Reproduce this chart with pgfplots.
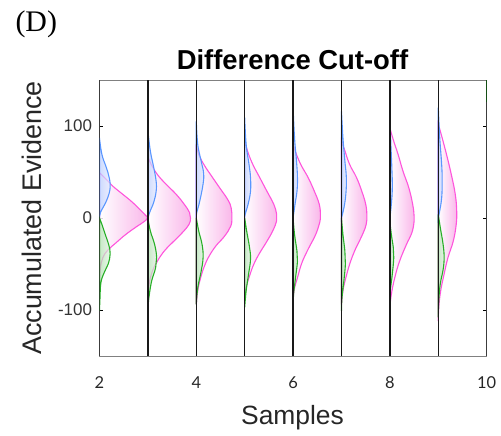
\documentclass[border=0pt]{standalone}
\usepackage{pgfplots}
\pgfplotsset{compat=1.18}
\usepackage{fontspec}
\setmainfont{Liberation Sans}
\newfontfamily\seriffont{Liberation Serif}
\newfontfamily\latofont{Lato}
\definecolor{mline}{RGB}{255,85,220}
\definecolor{mfill}{RGB}{248,170,230}
\definecolor{bline}{RGB}{90,150,255}
\definecolor{bfill}{RGB}{185,205,255}
\definecolor{gline}{RGB}{40,175,40}
\definecolor{gfill}{RGB}{175,225,175}
\pgfplotsset{
  mag/.style={draw=mline, line width=1.1bp, smooth, tension=0.7, left color=white, right color=mfill, fill opacity=0.85},
  blu/.style={draw=bline, line width=1.1bp, smooth, tension=0.7, left color=bfill, right color=bfill!35!white, fill opacity=0.7},
  grn/.style={draw=gline, line width=1.1bp, smooth, tension=0.7, left color=gfill, right color=gfill!35!white, fill opacity=0.7},
}
\begin{document}
\begin{tikzpicture}
\useasboundingbox (-99.5bp,-80bp) rectangle (401.5bp,356bp);
\begin{axis}[
  at={(0,0)}, anchor=south west,
  scale only axis, width=387.2bp, height=276bp,
  xmin=2, xmax=10, ymin=-150, ymax=150,
  xtick={2,4,6,8,10}, xticklabels={2,4,6,8,10},
  ytick={-100,0,100}, yticklabels={-100,0,100},
  tick align=inside, major tick length=4bp,
  xtick style={draw=none},
  ytick style={draw=black, line width=0.8bp},
  axis line style={draw=gray, line width=0.8bp},
  xticklabel style={font=\latofont\fontsize{16.5}{18}\selectfont, text=black!85, anchor=base, yshift=-32.5bp},
  yticklabel style={font=\fontsize{17}{20}\selectfont, text=black!80, xshift=-4bp},
  unbounded coords=jump,
]
% ---- column 2
\addplot[mag] coordinates {(2,49.3)(2.14,42)(2.27,34.8)(2.44,27.5)(2.65,18.5)(2.82,10)(2.95,3)(2.99,0)(2.92,-4)(2.75,-10)(2.54,-18)(2.34,-27)(2.17,-35)(2.07,-43)(2.02,-54)(2,-68)} -- cycle;
\addplot[blu] coordinates {(2,87)(2.05,69)(2.14,55)(2.20,44)(2.22,33)(2.17,22)(2.09,13)(2.02,6)(2,0)} -- cycle;
\addplot[grn] coordinates {(2,0)(2.05,-7)(2.12,-18)(2.19,-29)(2.22,-39)(2.18,-50)(2.10,-59)(2.03,-70)(2.01,-87)(2,-101)} -- cycle;
% ---- column 3
\addplot[mag] coordinates {(3,67)(3.07,58)(3.20,47)(3.37,37)(3.58,26)(3.75,15)(3.86,6)(3.88,0)(3.85,-7)(3.71,-16)(3.54,-25)(3.37,-34)(3.24,-43)(3.14,-52)(3.05,-65)(3.01,-79)(3,-87)} -- cycle;
\addplot[blu] coordinates {(3,95)(3.05,73)(3.12,55)(3.17,40)(3.17,29)(3.12,17)(3.05,8)(3,0)} -- cycle;
\addplot[grn] coordinates {(3,0)(3.05,-14)(3.14,-29)(3.18,-43)(3.16,-54)(3.08,-68)(3.03,-83)(3,-97)} -- cycle;
% ---- column 4
\addplot[mag] coordinates {(4,80)(4.05,69)(4.17,57)(4.31,46)(4.48,33)(4.65,20)(4.72,11)(4.735,0)(4.71,-9)(4.58,-20)(4.41,-30)(4.27,-41)(4.17,-52)(4.09,-65)(4.03,-79)(4,-94)} -- cycle;
\addplot[blu] coordinates {(4,105)(4.03,80)(4.10,62)(4.15,49)(4.14,37)(4.07,18)(4.01,6)(4,0)} -- cycle;
\addplot[grn] coordinates {(4,0)(4.05,-14)(4.12,-29)(4.14,-43)(4.10,-58)(4.03,-76)(4,-94)} -- cycle;
% ---- column 5
\addplot[mag] coordinates {(5,84)(5.07,71)(5.17,58)(5.31,44)(5.46,29)(5.60,15)(5.66,4)(5.66,-3)(5.58,-14)(5.44,-27)(5.31,-38)(5.19,-50)(5.10,-63)(5.03,-76)(5,-90)} -- cycle;
\addplot[blu] coordinates {(5,109)(5.03,80)(5.09,58)(5.12,44)(5.12,29)(5.07,15)(5.01,4)(5,0)} -- cycle;
\addplot[grn] coordinates {(5,0)(5.04,-14)(5.10,-32)(5.12,-45)(5.08,-61)(5.03,-79)(5,-97)} -- cycle;
% ---- column 6
\addplot[mag] coordinates {(6,80)(6.07,69)(6.17,57)(6.31,44)(6.44,29)(6.54,15)(6.565,3)(6.55,-5)(6.51,-12)(6.44,-21)(6.31,-34)(6.18,-49)(6.09,-65)(6.03,-76)(6,-87)} -- cycle;
\addplot[blu] coordinates {(6,120)(6.03,87)(6.07,62)(6.09,44)(6.08,29)(6.04,15)(6,0)} -- cycle;
\addplot[grn] coordinates {(6,0)(6.03,-18)(6.08,-36)(6.09,-47)(6.05,-65)(6.01,-83)(6,-97)} -- cycle;
% ---- column 7
\addplot[mag] coordinates {(7,84)(7.07,73)(7.17,58)(7.31,44)(7.42,29)(7.50,15)(7.525,3)(7.51,-7)(7.45,-16)(7.37,-25)(7.27,-36)(7.17,-50)(7.09,-65)(7.03,-79)(7,-94)} -- cycle;
\addplot[blu] coordinates {(7,116)(7.03,87)(7.07,62)(7.10,44)(7.09,26)(7.05,11)(7,0)} -- cycle;
\addplot[grn] coordinates {(7,0)(7.03,-18)(7.07,-36)(7.08,-50)(7.05,-68)(7.01,-87)(7,-101)} -- cycle;
% ---- column 8
\addplot[mag] coordinates {(8,98)(8.07,85)(8.17,69)(8.27,51)(8.39,33)(8.47,15)(8.50,2)(8.49,-8)(8.44,-18)(8.34,-29)(8.20,-47)(8.10,-65)(8.03,-83)(8,-97)} -- cycle;
\addplot[blu] coordinates {(8,109)(8.02,80)(8.04,55)(8.05,33)(8.03,15)(8,0)} -- cycle;
\addplot[grn] coordinates {(8,-4)(8.03,-18)(8.07,-32)(8.08,-43)(8.05,-61)(8.01,-79)(8,-97)} -- cycle;
% ---- column 9
\addplot[mag] coordinates {(9,102)(9.07,89)(9.17,69)(9.27,47)(9.35,26)(9.38,8)(9.37,-7)(9.31,-25)(9.20,-43)(9.12,-61)(9.05,-79)(9.01,-97)(9,-112)} -- cycle;
\addplot[blu] coordinates {(9,120)(9.03,87)(9.07,58)(9.08,40)(9.07,22)(9.03,8)(9,0)} -- cycle;
\addplot[grn] coordinates {(9,4)(9.04,-10)(9.10,-29)(9.12,-43)(9.10,-56)(9.04,-72)(9.01,-90)(9,-108)} -- cycle;
% ---- column lines
\addplot[black!90, line width=1.3bp] coordinates {(2,-150)(2,150) (2,nan) (3,-150)(3,150) (3,nan) (4,-150)(4,150) (4,nan) (5,-150)(5,150) (5,nan) (6,-150)(6,150) (6,nan) (7,-150)(7,150) (7,nan) (8,-150)(8,150) (8,nan) (9,-150)(9,150) (9,nan) (10,-150)(10,150)};
\addplot[green!35!black, line width=1.3bp] coordinates {(10,126)(10,150)};
\end{axis}
\node[anchor=base west, font=\seriffont\fontsize{30}{34}\selectfont] at (-87.5bp,324bp) {(D)};
\node[anchor=base, font=\bfseries\fontsize{27.5}{32}\selectfont] at (193bp,286bp) {Difference Cut-off};
\node[anchor=base, rotate=90, font=\fontsize{27}{32}\selectfont, text=black!85] at (-57.8bp,138bp) {Accumulated Evidence};
\node[anchor=base, font=\fontsize{26.5}{32}\selectfont, text=black!85] at (193bp,-68bp) {Samples};
\end{tikzpicture}
\end{document}
